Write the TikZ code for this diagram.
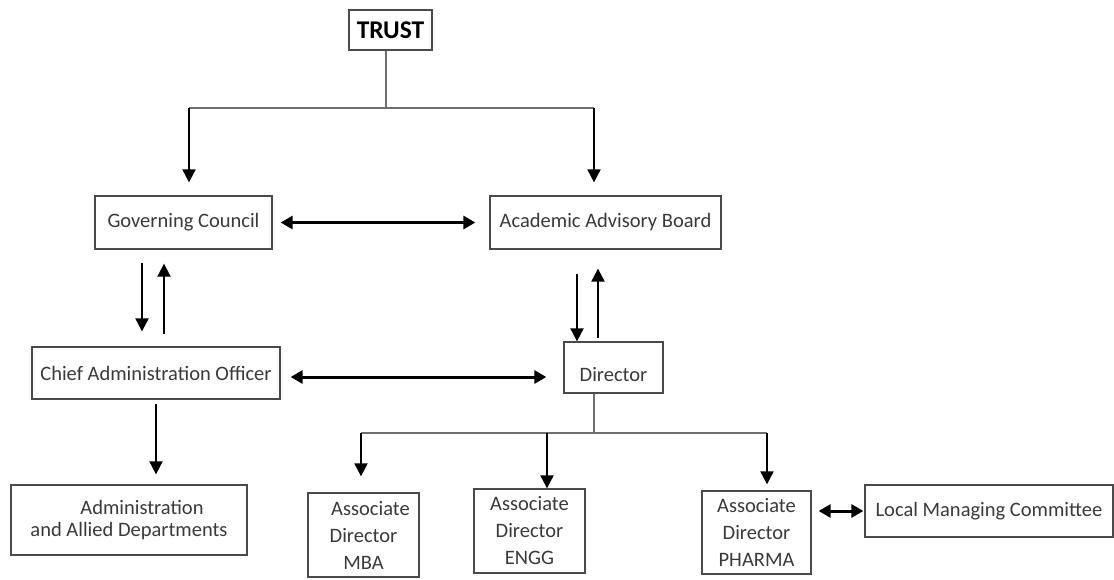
\documentclass[tikz,border=0pt]{standalone}
\usepackage{fontspec}
\setmainfont{Carlito}
\usetikzlibrary{arrows.meta}
\definecolor{boxgray}{HTML}{4A4A4A}
\definecolor{txtgray}{HTML}{3A3A3A}
\definecolor{linegray}{HTML}{6E6E6E}
\begin{document}
\begin{tikzpicture}[x=1pt,y=-1pt,
  box/.style={draw=boxgray, line width=1.3pt, inner sep=0pt, align=center,
    font=\fontsize{20.5}{27}\selectfont, text=txtgray},
  arr/.style={-{Triangle[width=13pt,length=13pt]}, line width=2pt, black},
  darr/.style={{Triangle[width=13pt,length=12pt]}-{Triangle[width=13pt,length=12pt]}, line width=3pt, black},
  link/.style={draw=linegray, line width=1.2pt}]
\useasboundingbox (0,0) rectangle (1114,579);
\fill[white] (0,0) rectangle (1114,579);

% nodes
\node[box, font=\fontsize{25.5}{28}\bfseries, text=black, minimum width=83pt, minimum height=40pt] (trust) at (390.5,30) {TRUST};
\node[box, minimum width=177pt, minimum height=53pt] (gc) at (183.5,222.5) {Governing Council};
\node[box, minimum width=231pt, minimum height=53pt] (aab) at (605.5,222.5) {Academic Advisory Board};
\node[box, minimum width=248pt, minimum height=52pt] (cao) at (156,373) {Chief Administration Officer};
\node[box, minimum width=99pt, minimum height=51pt, text height=28pt, text depth=0pt] (dir) at (613.5,367.5) {Director};
\node[box, font=\fontsize{20.5}{22}\selectfont, minimum width=236pt, minimum height=70pt] (adm) at (129,520) {\hspace*{26pt}Administration\\and Allied Departments};
\node[box, minimum width=111pt, minimum height=84pt] (mba) at (363.5,535) {\hspace*{14pt}Associate\\Director\\MBA};
\node[box, minimum width=111pt, minimum height=84pt] (engg) at (529.5,531) {Associate\\Director\\ENGG};
\node[box, minimum width=109pt, minimum height=83pt] (pharma) at (756.5,532.5) {Associate\\Director\\PHARMA};
\node[box, minimum width=248pt, minimum height=52pt] (lmc) at (989,511) {Local Managing Committee};

% trust tree
\coordinate (tj) at (386,108);
\coordinate (tl) at (189,108);
\coordinate (tr) at (594,108);
\draw[link] (tj |- trust.south) -- (tj);
\draw[link] (tl) -- (tr);
\draw[arr, shorten >=13pt] (tl) -- (tl |- gc.north);
\draw[arr, shorten >=13pt] (tr) -- (tr |- aab.north);

% horizontal links
\draw[darr, shorten <=8pt, shorten >=14pt] (gc) -- (aab);
\draw[darr, shorten <=10pt, shorten >=17pt] ([yshift=-4pt]cao.east) -- ([yshift=-4pt]cao.east -| dir.west);
\draw[darr, shorten <=7pt, shorten >=1pt] (pharma.east |- lmc.west) -- (lmc.west);

% GC <-> CAO
\draw[arr, shorten <=13pt, shorten >=15pt] ([xshift=-41.5pt]gc.south) -- ([xshift=-41.5pt]gc.south |- cao.north);
\draw[arr, shorten <=12pt, shorten >=14pt] ([xshift=-19.5pt]gc.south |- cao.north) -- ([xshift=-19.5pt]gc.south);

% AAB <-> Director
\draw[arr, shorten <=24pt] ([xshift=-28.5pt]aab.south) -- ([xshift=-28.5pt]aab.south |- dir.north);
\draw[arr, shorten <=3pt, shorten >=19pt] ([xshift=-7.5pt]aab.south |- dir.north) -- ([xshift=-7.5pt]aab.south);

% CAO -> Administration
\draw[arr, shorten <=4pt, shorten >=10pt] (cao.south) -- (cao.south |- adm.north);

% director tree
\coordinate (dj) at (594,433);
\coordinate (bm) at (361,433);
\coordinate (be) at (547,433);
\coordinate (bp) at (767,433);
\draw[link] ([xshift=-19.5pt]dir.south) -- (dj);
\draw[link] (bm) -- (bp);
\draw[arr, shorten >=16pt] (bm) -- (bm |- mba.north);
\draw[arr] (be) -- (be |- engg.north);
\draw[arr, shorten >=6pt] (bp) -- (bp |- pharma.north);
\end{tikzpicture}
\end{document}
